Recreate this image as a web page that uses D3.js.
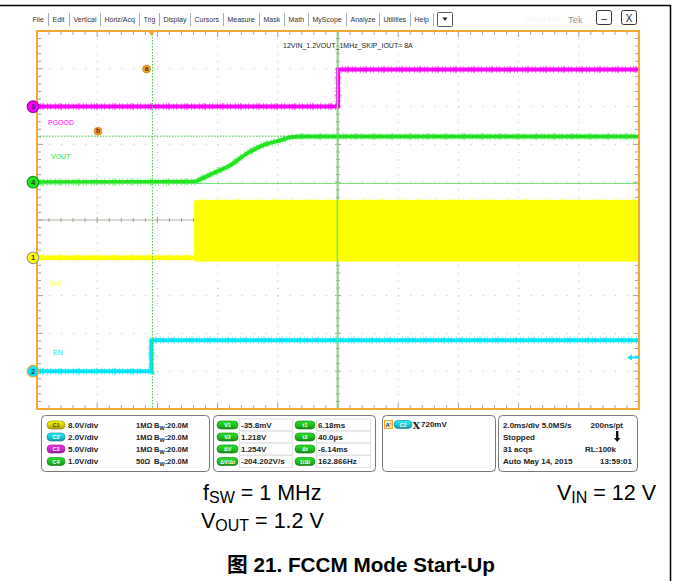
<!DOCTYPE html>
<html><head><meta charset="utf-8">
<script src="https://cdn.jsdelivr.net/npm/d3@7"></script>
<style>
body{margin:0;background:#fff;}
svg{display:block;font-family:"Liberation Sans",Arial,"Noto Sans CJK SC",sans-serif;}
</style></head><body>
<svg id="chart" width="673" height="581"></svg>
<script>
// ---- acquisition window ----
const timeWindow = [-3.8, 16.2];   // ms, trigger at 0 (2 ms/div)
const divRange = [-5, 5];          // graticule divisions

// ---- channel setup ----
const chNumbers = [1, 2, 3, 4];
const chNames = ["SW", "EN", "PGOOD", "VOUT"];
const chVoltsPerDiv = [8, 2, 5, 1];
const chOffsetDiv = [-1, -4, 3, 1];

// ---- captured waveforms (time in ms, level in V) ----
const pgoodTime = [-3.8, 6.2, 6.2, 16.2];
const pgoodVolts = [0, 0, 4.9, 4.9];
const enTime = [-3.8, 0.0, 0.0, 16.2];
const enVolts = [0, 0, 1.64, 1.64];
const voutTime = [-3.8, 1.40, 1.63, 2.06, 2.62, 3.19, 3.72, 4.29, 4.62, 5.0, 16.2];
const voutVolts = [0, 0.01, 0.08, 0.24, 0.45, 0.77, 0.98, 1.11, 1.19, 1.21, 1.21];
const swIdleTime = [-3.8, 1.42];
const swIdleVolts = [0, 0];
const swBurstTime = [1.42, 16.2];
const swBurstVolts = [-0.8, 12.1];   // switching envelope low / high

// ---- cursors & trigger ----
const cursorTimes = [6.18, 0.04];      // t1, t2 (ms)
const cursorVolts = [-0.0358, 1.218];  // V1, V2 on C4
const triggerLevel = 0.72;             // C2

// ---- readouts ----
const menuItems = ["File","Edit","Vertical","Horiz/Acq","Trig","Display","Cursors","Measure","Mask","Math","MyScope","Analyze","Utilities","Help"];
const plotTitle = "12VIN_1.2VOUT_1MHz_SKIP_IOUT= 8A";
const chScaleText = ["8.0V/div", "2.0V/div", "5.0V/div", "1.0V/div"];
const chImpedance = ["1MΩ", "1MΩ", "1MΩ", "50Ω"];
const chBandwidth = ["20.0M", "20.0M", "20.0M", "20.0M"];
const cursorLabelsA = ["V1", "V2", "ΔV", "ΔV/Δt"];
const cursorValuesA = ["-35.8mV", "1.218V", "1.254V", "-204.202V/s"];
const cursorLabelsB = ["t1", "t2", "Δt", "1/Δt"];
const cursorValuesB = ["6.18ms", "40.0µs", "-6.14ms", "162.866Hz"];
const triggerText = "720mV";
const acqLeft = ["2.0ms/div  5.0MS/s", "Stopped", "31 acqs", "Auto   May 14, 2015"];
const acqRight = ["200ns/pt", "", "RL:100k", "13:59:01"];

// ---- style ----
const chColors = ["#ffff00", "#00e6f6", "#ff00ff", "#1fe61f"];
const frameColor = "#f5a733";
const plot = {left: 37, right: 639, top: 31, bottom: 409};

const svg = d3.select("#chart");
const defs = svg.append("defs");

const xTime = d3.scaleLinear().domain(timeWindow).range([plot.left, plot.right]);
const xDiv = d3.scaleLinear().domain(divRange).range([plot.left, plot.right]);
const yDiv = d3.scaleLinear().domain(divRange).range([plot.bottom, plot.top]);
const yCh = (i, v) => yDiv(chOffsetDiv[i] + v / chVoltsPerDiv[i]);

const minorX = (xDiv(1) - xDiv(0)) / 5;
const minorY = (yDiv(0) - yDiv(1)) / 5;

// outer border
svg.append("line").attr("x1", 0).attr("x2", 670.5).attr("y1", 5.5).attr("y2", 5.5).attr("stroke", "#000").attr("stroke-width", 1.5);
svg.append("line").attr("x1", 670.5).attr("x2", 670.5).attr("y1", 5).attr("y2", 581).attr("stroke", "#000").attr("stroke-width", 1.5);

// ---- menu bar ----
const menu = svg.append("g").attr("font-size", 7).attr("fill", "#333");
let mx = 32.5;
menuItems.forEach((m) => {
  const t = menu.append("text").attr("x", mx).attr("y", 21.5).text(m);
  const w = t.node().getComputedTextLength();
  const sx = Math.round(mx + w + 4) + 0.5;
  menu.append("line").attr("x1", sx).attr("x2", sx).attr("y1", 13).attr("y2", 26).attr("stroke", "#9fb0c8");
  mx = sx + 4;
});
menu.append("rect").attr("x", mx).attr("y", 12.5).attr("width", 15).attr("height", 14).attr("fill", "#fff").attr("stroke", "#556").attr("rx", 1);
menu.append("path").attr("d", `M${mx + 5},${17.5} h5 l-2.5,3.5z`).attr("fill", "#222");
svg.append("text").attr("x", 525).attr("y", 22).attr("font-size", 8).attr("fill", "#f2f2f2").text("DPO7104");
svg.append("text").attr("x", 568).attr("y", 22.5).attr("font-size", 9.5).attr("fill", "#999").text("Tek");
[[596, "–"], [621, "X"]].forEach(([bx, s]) => {
  svg.append("rect").attr("x", bx + 0.5).attr("y", 10.5).attr("width", 15).attr("height", 14).attr("rx", 2).attr("fill", "#fff").attr("stroke", "#333");
  svg.append("text").attr("x", bx + 8).attr("y", 21.5).attr("text-anchor", "middle").attr("font-size", 10).attr("fill", "#222").text(s);
});

// ---- graticule ----
const grid = svg.append("g");
grid.append("rect").attr("x", plot.left).attr("y", plot.top).attr("width", plot.right - plot.left).attr("height", plot.bottom - plot.top).attr("fill", "#fff");
d3.range(-4, 5).filter(d => d !== 0).forEach(d => {
  grid.append("line").attr("x1", xDiv(d)).attr("x2", xDiv(d)).attr("y1", plot.top).attr("y2", plot.bottom)
    .attr("stroke", "#bdbdbd").attr("stroke-dasharray", `1 ${minorY - 1}`);
  grid.append("line").attr("x1", plot.left).attr("x2", plot.right).attr("y1", yDiv(d)).attr("y2", yDiv(d))
    .attr("stroke", "#bdbdbd").attr("stroke-dasharray", `1 ${minorX - 1}`);
});
// centre crosshair with minor ticks
const cx = xDiv(0), cy = yDiv(0);
grid.append("line").attr("x1", plot.left).attr("x2", plot.right).attr("y1", cy).attr("y2", cy).attr("stroke", "#b5ada2").attr("stroke-width", 1.2);
grid.append("line").attr("x1", cx).attr("x2", cx).attr("y1", plot.top).attr("y2", plot.bottom).attr("stroke", "#b5ada2").attr("stroke-width", 1.2);
d3.range(0, 51).forEach(k => {
  const x = plot.left + k * minorX, major = k % 5 === 0;
  grid.append("line").attr("x1", x).attr("x2", x).attr("y1", cy - (major ? 3 : 2)).attr("y2", cy + (major ? 3 : 2)).attr("stroke", "#a8a095");
  const y = plot.top + k * minorY;
  grid.append("line").attr("x1", cx - (major ? 3 : 2)).attr("x2", cx + (major ? 3 : 2)).attr("y1", y).attr("y2", y).attr("stroke", "#a8a095");
  // edge ticks
  grid.append("line").attr("x1", plot.left).attr("x2", plot.left + (major ? 6 : 4)).attr("y1", y).attr("y2", y).attr("stroke", "#a0a0a0");
  grid.append("line").attr("x1", plot.right).attr("x2", plot.right - (major ? 6 : 4)).attr("y1", y).attr("y2", y).attr("stroke", "#a0a0a0");
  grid.append("line").attr("x1", x).attr("x2", x).attr("y1", plot.top).attr("y2", plot.top + (major ? 6 : 4)).attr("stroke", "#a0a0a0");
  grid.append("line").attr("x1", x).attr("x2", x).attr("y1", plot.bottom).attr("y2", plot.bottom - (major ? 6 : 4)).attr("stroke", "#a0a0a0");
});

// ---- waveforms ----
const traces = svg.append("g");
function drawTrace(i, times, volts, curve, width) {
  const pts = times.map((t, k) => [xTime(t), yCh(i, volts[k])]);
  const line = d3.line().curve(curve || d3.curveLinear);
  traces.append("path").attr("d", line(pts)).attr("fill", "none").attr("stroke", chColors[i])
    .attr("stroke-width", width + 3).attr("stroke-opacity", 0.5).attr("stroke-dasharray", "1 2 1 1 2 3 1 2 1 4");
  traces.append("path").attr("d", line(pts)).attr("fill", "none").attr("stroke", chColors[i])
    .attr("stroke-width", width);
}
// C1 switch node: idle line then switching envelope
drawTrace(0, swIdleTime, swIdleVolts, null, 4.5);
traces.append("rect")
  .attr("x", xTime(swBurstTime[0])).attr("width", xTime(swBurstTime[1]) - xTime(swBurstTime[0]))
  .attr("y", yCh(0, swBurstVolts[1])).attr("height", yCh(0, swBurstVolts[0]) - yCh(0, swBurstVolts[1]))
  .attr("fill", chColors[0]);
drawTrace(0, [swBurstTime[0] + 0.08, swBurstTime[1]], [swBurstVolts[1], swBurstVolts[1]], null, 1.2);
drawTrace(2, pgoodTime, pgoodVolts, null, 4);
drawTrace(3, voutTime, voutVolts, d3.curveMonotoneX, 4);
drawTrace(1, enTime, enVolts, null, 4);

// ---- cursors ----
const cur = svg.append("g");
cur.append("line").attr("x1", xTime(cursorTimes[0])).attr("x2", xTime(cursorTimes[0])).attr("y1", plot.top).attr("y2", plot.bottom)
  .attr("stroke", "#6fe46f").attr("stroke-width", 1.5);
cur.append("line").attr("x1", xTime(cursorTimes[1])).attr("x2", xTime(cursorTimes[1])).attr("y1", plot.top).attr("y2", plot.bottom)
  .attr("stroke", "#3ec83e").attr("stroke-width", 1).attr("stroke-dasharray", "1.5 1.5");
cur.append("line").attr("x1", plot.left).attr("x2", plot.right).attr("y1", yCh(3, cursorVolts[0])).attr("y2", yCh(3, cursorVolts[0]))
  .attr("stroke", "#6fe46f").attr("stroke-width", 1);
cur.append("line").attr("x1", plot.left).attr("x2", plot.right).attr("y1", yCh(3, cursorVolts[1])).attr("y2", yCh(3, cursorVolts[1]))
  .attr("stroke", "#2fb82f").attr("stroke-width", 1).attr("stroke-dasharray", "1.5 1.5");
[["a", xTime(cursorTimes[1]) - 6, 69], ["b", 98, yCh(3, cursorVolts[1]) - 5]].forEach(([s, x, y]) => {
  cur.append("circle").attr("cx", x).attr("cy", y).attr("r", 4).attr("fill", "#f5a21e").attr("stroke", "#c47a10").attr("stroke-width", 0.6);
  cur.append("text").attr("x", x).attr("y", y + 2.3).attr("text-anchor", "middle").attr("font-size", 6.5).attr("font-weight", "bold").attr("fill", "#333").text(s);
});

// in-graticule labels
svg.append("text").attr("x", 283).attr("y", 47.5).attr("font-size", 7).attr("fill", "#222").text(plotTitle);
const labelPos = [[50, 285.5], [53, 354.5], [48, 124.5], [51, 158.5]];
chNames.forEach((n, i) => {
  svg.append("text").attr("x", labelPos[i][0]).attr("y", labelPos[i][1]).attr("font-size", 7).attr("fill", chColors[i]).text(n);
});

// frame
svg.append("rect").attr("x", plot.left).attr("y", plot.top).attr("width", plot.right - plot.left).attr("height", plot.bottom - plot.top)
  .attr("fill", "none").attr("stroke", frameColor).attr("stroke-width", 2);

// trigger position marker and level arrow
const tx = xTime(0);
svg.append("path").attr("d", `M${tx - 3.5},${plot.top} h7 l-3.5,5z`).attr("fill", frameColor);
const ty = yCh(1, triggerLevel);
svg.append("path").attr("d", `M${plot.right - 12},${ty} l5,-3 v2 h7 v2 h-7 v2z`).attr("fill", chColors[1]);

// channel ground markers
const ringColors = ["#9a9a9a", "#f5a733", "#b000b0", "#12a012"];
chNumbers.forEach((n, i) => {
  const y = yCh(i, 0);
  svg.append("path").attr("d", `M39,${y - 2.5} l4,2.5 l-4,2.5z`).attr("fill", chColors[i]);
  svg.append("circle").attr("cx", 33).attr("cy", y).attr("r", 5.8).attr("fill", chColors[i]).attr("stroke", ringColors[i]).attr("stroke-width", 1.2);
  svg.append("text").attr("x", 33).attr("y", y + 2.6).attr("text-anchor", "middle").attr("font-size", 7.5).attr("font-weight", "bold").attr("fill", "#333").text(n);
});

// ---- readout panels ----
function pillGradient(id, c) {
  const g = defs.append("linearGradient").attr("id", id).attr("x1", 0).attr("x2", 0).attr("y1", 0).attr("y2", 1);
  g.append("stop").attr("offset", 0).attr("stop-color", d3.color(c).brighter(0.6));
  g.append("stop").attr("offset", 0.55).attr("stop-color", c);
  g.append("stop").attr("offset", 1).attr("stop-color", d3.color(c).darker(0.8));
}
const pillColors = ["#d6cc00", "#19c6d6", "#cc22cc", "#1dbb1d"];
pillColors.forEach((c, i) => pillGradient("pill" + i, c));
function pill(x, y, w, idx, label, tColor) {
  svg.append("rect").attr("x", x).attr("y", y - 4).attr("width", w).attr("height", 8).attr("rx", 4)
    .attr("fill", `url(#pill${idx})`).attr("stroke", d3.color(pillColors[idx]).darker(1.2)).attr("stroke-width", 0.6);
  svg.append("text").attr("x", x + w / 2).attr("y", y + 2).attr("text-anchor", "middle").attr("font-size", 5.5)
    .attr("font-weight", "bold").attr("fill", tColor || "#fff").text(label);
}
function panel(x, w) {
  svg.append("rect").attr("x", x + 0.5).attr("y", 415.5).attr("width", w).attr("height", 56).attr("rx", 4)
    .attr("fill", "#fff").attr("stroke", "#777").attr("stroke-width", 1);
}
const rowY = [425, 437, 449, 461.5];
const pf = {size: 8, weight: "bold", fill: "#222"};
function ptext(x, y, s, anchor, size) {
  return svg.append("text").attr("x", x).attr("y", y + 2.8).attr("font-size", size || pf.size).attr("font-weight", pf.weight)
    .attr("fill", pf.fill).attr("text-anchor", anchor || "start").text(s);
}

panel(41, 168);
chNumbers.forEach((n, i) => {
  pill(47, rowY[i], 18, i, "C" + n, i === 0 ? "#444" : "#fff");
  ptext(68, rowY[i], chScaleText[i]);
  ptext(136, rowY[i], chImpedance[i], "start", 7.5);
  const t = ptext(154, rowY[i], "B", "start", 7.5);
  t.append("tspan").attr("font-size", 5.5).attr("dy", 2).text("W");
  t.append("tspan").attr("dy", -2).text(":" + chBandwidth[i]);
});

panel(213, 162);
rowY.forEach((y, i) => {
  svg.append("rect").attr("x", 239.5).attr("y", y - 6).attr("width", 53).attr("height", 12).attr("fill", "none").attr("stroke", "#e2e2e2");
  svg.append("rect").attr("x", 316.5).attr("y", y - 6).attr("width", 54).attr("height", 12).attr("fill", "none").attr("stroke", "#e2e2e2");
  pill(217, y, 21, 3, cursorLabelsA[i]);
  ptext(241, y, cursorValuesA[i]);
  pill(295, y, 20, 3, cursorLabelsB[i]);
  ptext(318, y, cursorValuesB[i]);
});

panel(382, 113);
svg.append("rect").attr("x", 384.5).attr("y", 420.5).attr("width", 8).attr("height", 8).attr("fill", "#fde8c0").attr("stroke", frameColor);
svg.append("text").attr("x", 388.5).attr("y", 426.8).attr("text-anchor", "middle").attr("font-size", 5.5).attr("font-weight", "bold").attr("fill", "#333").text("A'");
pill(394, 424.5, 18, 1, "C2");
svg.append("text").attr("x", 412.5).attr("y", 428.5).attr("font-size", 10).attr("font-family", "DejaVu Serif").attr("font-weight", "bold").attr("fill", "#222").text("X");
ptext(421, 424.5, triggerText);

panel(498, 139);
rowY.forEach((y, i) => {
  ptext(503, y, acqLeft[i]);
  if (acqRight[i]) ptext(i === 3 ? 632 : (i === 2 ? 616 : 623), y, acqRight[i], "end");
});
svg.append("path").attr("d", "M616,431 h2.4 v7 h2 l-3.2,4 l-3.2,-4 h2z").attr("fill", "#111");

// ---- figure captions ----
const cap = svg.append("g").attr("fill", "#000").attr("font-size", 21.5);
function subText(x, y, main, sub, rest) {
  const t = cap.append("text").attr("x", x).attr("y", y).text(main);
  t.append("tspan").attr("font-size", 16).attr("dy", 3).text(sub);
  t.append("tspan").attr("dy", -3).text(rest);
}
subText(203, 500, "f", "SW", " = 1 MHz");
subText(557, 500, "V", "IN", " = 12 V");
subText(201, 528, "V", "OUT", " = 1.2 V");
cap.append("text").attr("x", 227).attr("y", 572).attr("font-weight", "bold").attr("font-size", 20.7)
  .attr("font-family", "'Liberation Sans','Noto Sans CJK SC',sans-serif").text("图 21. FCCM Mode Start-Up");
</script>
</body></html>
